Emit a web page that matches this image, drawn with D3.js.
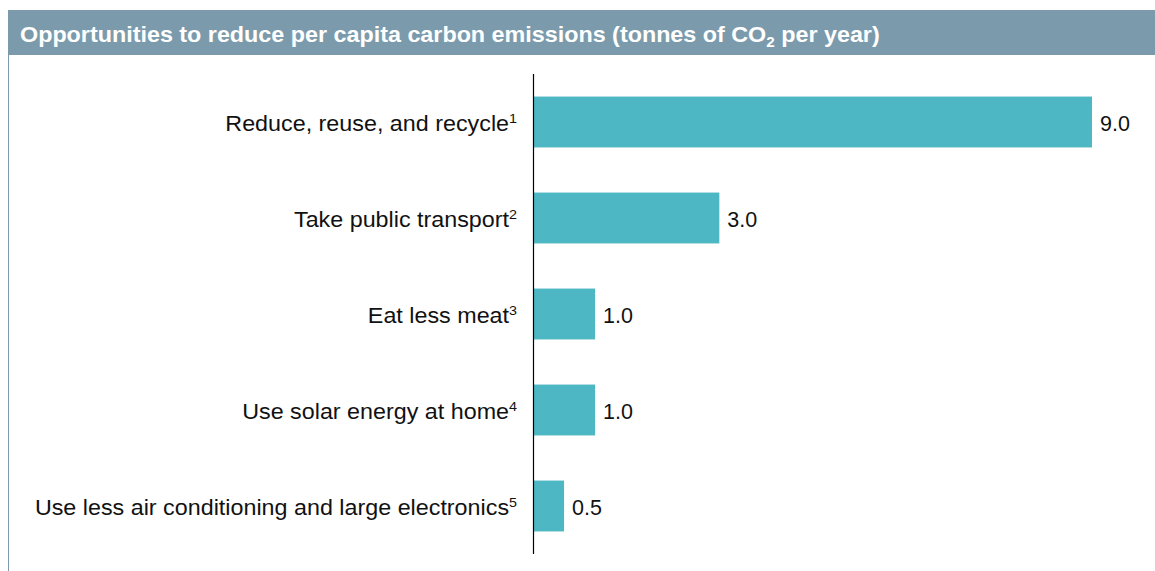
<!DOCTYPE html>
<html>
<head>
<meta charset="utf-8">
<script src="https://cdn.jsdelivr.net/npm/d3@7"></script>
<style>
  html, body { margin: 0; padding: 0; background: #fff; }
  svg { display: block; font-family: "Liberation Sans", Arial, sans-serif; }
</style>
</head>
<body>
<svg id="chart" width="1155" height="571"></svg>
<script>
// data
const categories = [
  "Reduce, reuse, and recycle",
  "Take public transport",
  "Eat less meat",
  "Use solar energy at home",
  "Use less air conditioning and large electronics"
];
const footnotes = ["1", "2", "3", "4", "5"];
const values = [9.0, 3.0, 1.0, 1.0, 0.5];

const svg = d3.select("#chart");
const width = 1155;
const height = 571;

// header band
svg.append("rect")
  .attr("x", 8)
  .attr("y", 10)
  .attr("width", width - 8)
  .attr("height", 45)
  .attr("fill", "#7b9bac");

// left frame line
svg.append("line")
  .attr("x1", 8.5)
  .attr("x2", 8.5)
  .attr("y1", 55)
  .attr("y2", height)
  .attr("stroke", "#7b9bac")
  .attr("stroke-width", 1);

// title (glyphs a bit wider than plain Arial in the original)
const title = svg.append("text")
  .attr("transform", "translate(20,42) scale(1.085,1)")
  .attr("fill", "#fff")
  .attr("font-weight", "bold")
  .attr("font-size", "21.5px");
title.append("tspan").text("Opportunities to reduce per capita carbon emissions (tonnes of CO");
title.append("tspan").attr("font-size", "14px").attr("dy", 5).text("2");
title.append("tspan").attr("dy", -5).text(" per year)");

// scales
const x0 = 533;
const xScale = d3.scaleLinear().domain([0, 9]).range([x0, 1092]);
const yScale = d3.scaleBand()
  .domain(categories)
  .range([74, 554])
  .paddingInner(0.47)
  .paddingOuter(0.235);

const barColor = "#4db8c3";

svg.append("g")
  .selectAll("rect")
  .data(values)
  .enter()
  .append("rect")
  .attr("x", x0)
  .attr("y", (d, i) => yScale(categories[i]))
  .attr("width", (d) => xScale(d) - x0)
  .attr("height", yScale.bandwidth())
  .attr("fill", barColor);

// value labels
svg.append("g")
  .selectAll("text")
  .data(values)
  .enter()
  .append("text")
  .attr("x", (d) => xScale(d) + 8)
  .attr("y", (d, i) => yScale(categories[i]) + yScale.bandwidth() / 2)
  .attr("dy", "0.4em")
  .attr("font-size", "21.5px")
  .attr("fill", "#111")
  .text((d) => d3.format(".1f")(d));

// category labels
const labels = svg.append("g")
  .selectAll("text")
  .data(categories)
  .enter()
  .append("text")
  .attr("transform", (d) =>
    `translate(517,${yScale(d) + yScale.bandwidth() / 2}) scale(1.06,1)`)
  .attr("dy", "0.4em")
  .attr("text-anchor", "end")
  .attr("font-size", "22px")
  .attr("fill", "#111");
labels.append("tspan").text((d) => d);
labels.append("tspan")
  .attr("font-size", "13.5px")
  .attr("dy", "-0.6em")
  .text((d, i) => footnotes[i]);

// axis line
svg.append("line")
  .attr("x1", x0 + 0.5)
  .attr("x2", x0 + 0.5)
  .attr("y1", 74)
  .attr("y2", 554)
  .attr("stroke", "#000")
  .attr("stroke-width", 1.2);
</script>
</body>
</html>
